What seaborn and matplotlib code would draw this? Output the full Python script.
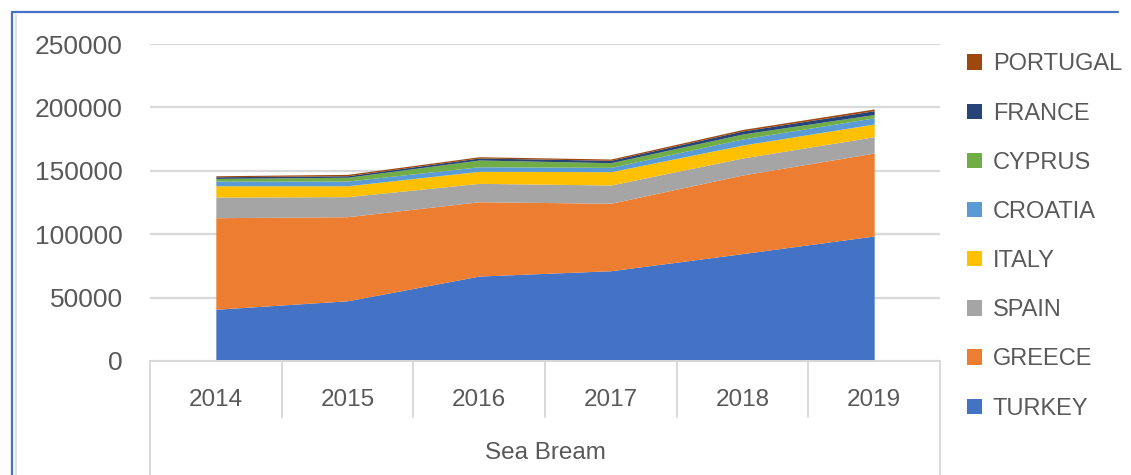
import matplotlib
matplotlib.use("Agg")
import matplotlib.pyplot as plt
import matplotlib.transforms as mtransforms
from matplotlib.lines import Line2D
from matplotlib.patches import Rectangle
import seaborn as sns

# Sea bream production by country (tonnes)
years = ["2014", "2015", "2016", "2017", "2018", "2019"]
group_label = "Sea Bream"
countries = ["TURKEY", "GREECE", "SPAIN", "ITALY", "CROATIA", "CYPRUS", "FRANCE", "PORTUGAL"]
turkey = [40800, 47500, 67000, 71200, 84700, 98600]
greece = [72200, 66300, 58600, 53200, 62000, 65400]
spain = [16300, 15800, 14500, 14400, 13400, 12900]
italy = [8900, 8600, 9500, 10500, 10200, 10000]
croatia = [3700, 3700, 3600, 3400, 4800, 4900]
cyprus = [2100, 3000, 5300, 3700, 3900, 2600]
france = [1300, 1200, 1600, 1900, 2400, 3000]
portugal = [800, 1100, 1000, 1000, 1200, 1400]
y_ticks = [0, 50000, 100000, 150000, 200000, 250000]

series = [turkey, greece, spain, italy, croatia, cyprus, france, portugal]
palette = sns.color_palette(["#4472C4", "#ED7D31", "#A5A5A5", "#FFC000",
                             "#5B9BD5", "#70AD47", "#264478", "#9E480E"])

sns.set_style("white")
plt.rcParams["font.family"] = ["Liberation Sans", "DejaVu Sans"]

W, H = 1131, 475
fig = plt.figure(figsize=(W / 100, H / 100), dpi=100)
ax = fig.add_axes([150 / W, (H - 361) / H, (940 - 150) / W, (361 - 44) / H])

x = list(range(len(years)))
ax.stackplot(x, *series, colors=palette, labels=countries, linewidth=0, zorder=2)

ax.set_xlim(-0.5, len(years) - 0.5)
ax.set_ylim(y_ticks[0], y_ticks[-1])
ax.set_yticks(y_ticks)
ax.set_yticklabels([str(v) for v in y_ticks], fontsize=19, color="#595959")
ax.tick_params(axis="y", length=0, pad=19.5)
ax.set_xticks(x)
ax.set_xticklabels(years, fontsize=17.5, color="#595959")
ax.tick_params(axis="x", length=0, pad=20.5)
ax.grid(axis="y", color="#D9D9D9", linewidth=1.6, zorder=0)
ax.grid(axis="x", visible=False)
for side in ["top", "right", "left"]:
    ax.spines[side].set_visible(False)
ax.spines["bottom"].set_color("#D9D9D9")
ax.spines["bottom"].set_linewidth(1.4)

# Category-axis dividers below the plot
trans = mtransforms.blended_transform_factory(ax.transData, ax.transAxes)
depth_short = (417 - 361) / (361 - 44)
depth_long = (475 - 361) / (361 - 44)
for i in range(len(years) + 1):
    xb = i - 0.5
    d = depth_long if i in (0, len(years)) else depth_short
    ax.plot([xb, xb], [0, -d], transform=trans, color="#D9D9D9",
            linewidth=1.4, clip_on=False, zorder=3)
ax.text((len(years) - 1) / 2, -(453 - 361) / (361 - 44), group_label,
        transform=trans, ha="center", va="center", fontsize=17.5, color="#595959")

# Legend, top entry last in the stack
handles, labels = ax.get_legend_handles_labels()
leg = fig.legend(handles[::-1], labels[::-1], loc="upper left",
                 bbox_to_anchor=(958 / W, 1 - 44 / H), frameon=False,
                 fontsize=17, labelcolor="#595959", handlelength=0.62,
                 handleheight=0.62, handletextpad=0.45, labelspacing=1.15,
                 borderaxespad=0)

# Chart frame: top and left edges with a soft inner shadow
fig.add_artist(Line2D([12 / W, 1118 / W], [1 - 12 / H, 1 - 12 / H],
                      transform=fig.transFigure, color="#4472C4", linewidth=1.6))
fig.add_artist(Line2D([12 / W, 12 / W], [0, 1 - 12 / H],
                      transform=fig.transFigure, color="#4472C4", linewidth=1.6))
fig.patches.append(Rectangle((14.5 / W, 0), 2 / W, 1 - 14 / H,
                             transform=fig.transFigure, fill=True,
                             facecolor="#E0E0E0", edgecolor="none"))

fig.savefig("out.png", dpi=100)
